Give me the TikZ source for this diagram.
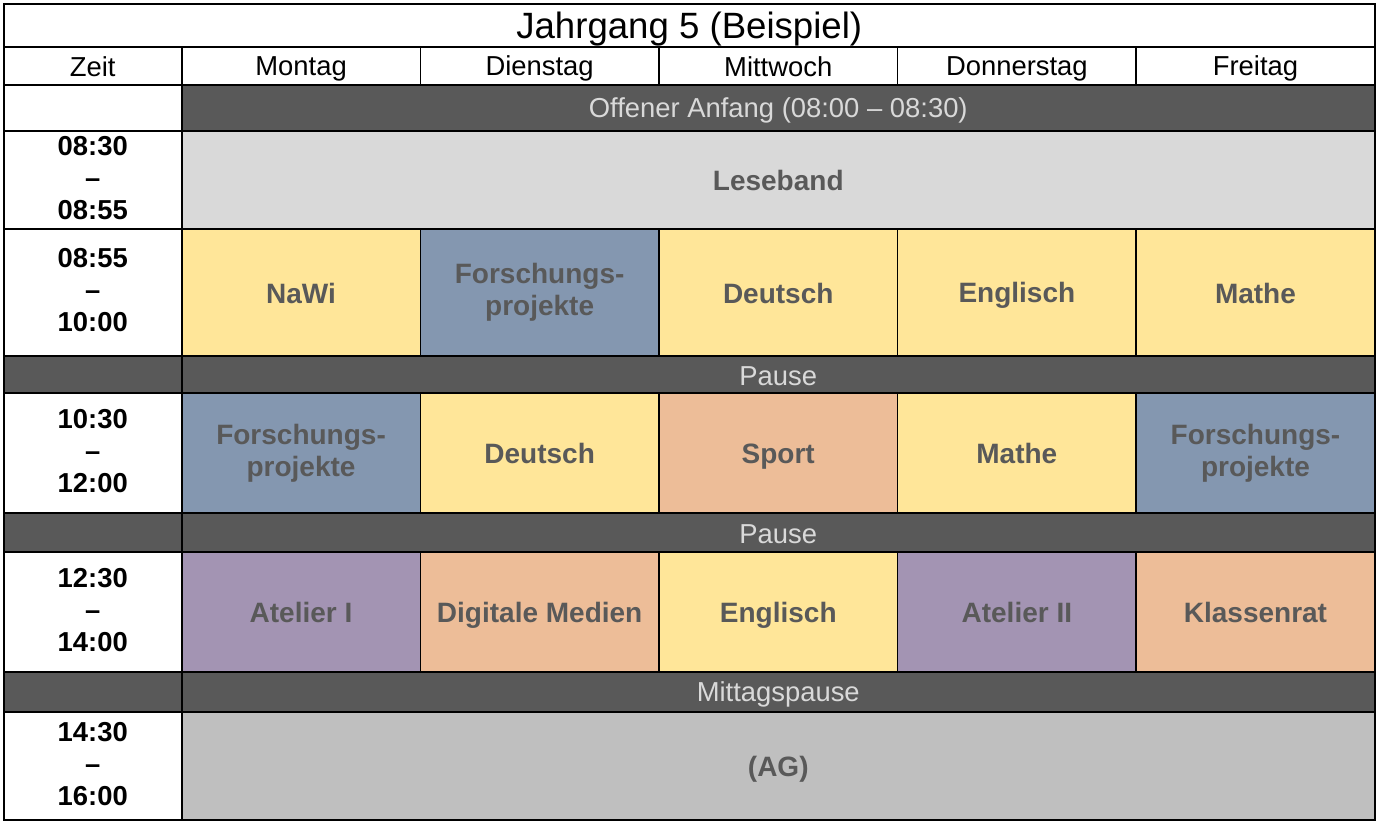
\documentclass[tikz,border=0pt]{standalone}
\usepackage{fontspec}
\setmainfont{Liberation Sans}
\definecolor{gelb}{HTML}{FFE699}
\definecolor{blau}{HTML}{8497B0}
\definecolor{lachs}{HTML}{EDBD98}
\definecolor{lila}{HTML}{A394B3}
\definecolor{hell}{HTML}{D9D9D9}
\definecolor{grau}{HTML}{BFBFBF}
\definecolor{dunkel}{HTML}{595959}
\newcommand{\cellfont}{\fontsize{13.7}{16}\selectfont}
\newcommand{\subjfont}{\fontsize{14}{16}\selectfont\bfseries}
\newcommand{\titlefont}{\fontsize{18.3}{20}\selectfont}
\newcommand{\zs}{\vrule width 0pt height 0.95em depth 0.15em\relax}
\begin{document}
\begin{tikzpicture}[
			x=0.5pt, y=-0.5pt,
			cell/.style 2 args={draw=black, line width=0.75pt, inner sep=0pt,
					anchor=north west, align=center, font=\cellfont,
					execute at begin node=\zs, execute at end node=\zs,
					minimum width=#1*0.5pt, minimum height=#2*0.5pt},
			zeitcell/.style={font=\cellfont\bfseries},
			subject/.style={fill=#1, text=dunkel, font=\subjfont},
			pausecell/.style={fill=dunkel, text=hell}
		]
		\useasboundingbox (0,0) rectangle (1379,821);
		% Kopf
		\node[cell={1371}{43}, font=\titlefont] (title) at (3,3) {Jahrgang 5 (Beispiel)};
		\node[cell={178}{38}] (zeit) at (3,46) {Zeit};
		\foreach \d [count=\i] in {Montag,Dienstag,Mittwoch,Donnerstag,Freitag}
		\node[cell={238.6}{38}] (day\i) at ({181+238.6*(\i-1)},46) {\d};
		% Offener Anfang
		\node[cell={178}{46}] (t0) at (3,84) {};
		\node[cell={1193}{46}, pausecell] (offen) at (181,84) {Offener Anfang (08:00 – 08:30)};
		% Leseband
		\node[cell={178}{98}, zeitcell] (t1) at (3,130) {08:30\\–\\08:55};
		\node[cell={1193}{98}, subject=hell] (lese) at (181,130) {Leseband};
		% 1. Block
		\node[cell={178}{127}, zeitcell] (t2) at (3,228) {08:55\\–\\10:00};
		\foreach \s/\c [count=\i] in {NaWi/gelb, {Forschungs-\\projekte}/blau,
				Deutsch/gelb, Englisch/gelb, Mathe/gelb}
		\node[cell={238.6}{127}, subject=\c] (a\i) at ({181+238.6*(\i-1)},228) {\s};
		% Pause
		\node[cell={178}{37}, pausecell] (p1z) at (3,355) {};
		\node[cell={1193}{37}, pausecell] (pause1) at (181,355) {Pause};
		% 2. Block
		\node[cell={178}{120}, zeitcell] (t3) at (3,392) {10:30\\–\\12:00};
		\foreach \s/\c [count=\i] in {{Forschungs-\\projekte}/blau, Deutsch/gelb,
				Sport/lachs, Mathe/gelb, {Forschungs-\\projekte}/blau}
		\node[cell={238.6}{120}, subject=\c] (b\i) at ({181+238.6*(\i-1)},392) {\s};
		% Pause
		\node[cell={178}{39}, pausecell] (p2z) at (3,512) {};
		\node[cell={1193}{39}, pausecell] (pause2) at (181,512) {Pause};
		% 3. Block
		\node[cell={178}{120}, zeitcell] (t4) at (3,551) {12:30\\–\\14:00};
		\foreach \s/\c [count=\i] in {Atelier I/lila, Digitale Medien/lachs,
				Englisch/gelb, Atelier II/lila, Klassenrat/lachs}
		\node[cell={238.6}{120}, subject=\c] (c\i) at ({181+238.6*(\i-1)},551) {\s};
		% Mittagspause
		\node[cell={178}{40}, pausecell] (p3z) at (3,671) {};
		\node[cell={1193}{40}, pausecell] (mittag) at (181,671) {Mittagspause};
		% AG
		\node[cell={178}{108}, zeitcell] (t5) at (3,711) {14:30\\–\\16:00};
		\node[cell={1193}{108}, subject=grau] (ag) at (181,711) {(AG)};
	\end{tikzpicture}
\end{document}
